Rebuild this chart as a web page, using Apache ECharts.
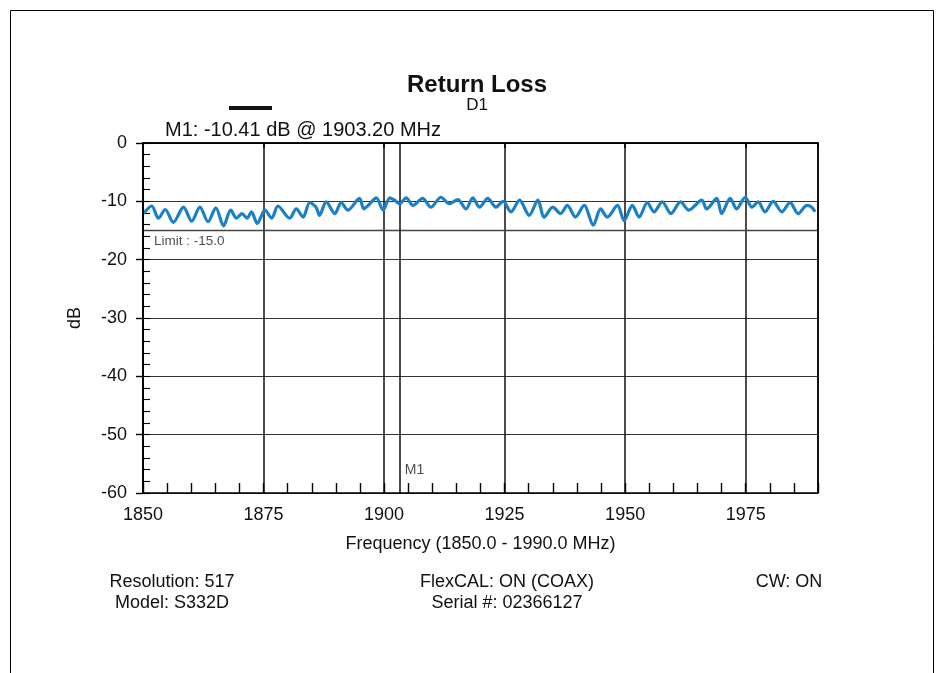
<!DOCTYPE html>
<html>
<head>
<meta charset="utf-8">
<script src="https://cdn.jsdelivr.net/npm/echarts@6/dist/echarts.min.js"></script>
<style>html,body{margin:0;padding:0;background:#fff}#c{width:941px;height:673px}</style>
</head>
<body>
<div id="c"></div>
<script>
var FONT = '"Liberation Sans", Arial, Helvetica, sans-serif';
var freqMHz = [1850.1,1851.8,1853.2,1854.6,1856.3,1858.4,1860.1,1861.8,1863.5,1865.1,1866.7,1868.2,1869.4,1870.5,1871.6,1872.5,1873.7,1875.3,1876.7,1878.0,1880.4,1881.8,1883.2,1884.6,1885.9,1886.6,1888.0,1889.8,1891.1,1892.5,1894.9,1895.8,1896.7,1898.4,1899.8,1901.2,1902.2,1903.2,1904.6,1906.0,1908.0,1909.7,1911.8,1913.5,1915.3,1917.0,1918.4,1919.8,1921.5,1923.2,1924.7,1926.3,1928.1,1930.1,1931.9,1933.2,1935.0,1936.6,1938.0,1939.7,1941.5,1943.4,1944.9,1946.3,1948.4,1949.8,1951.5,1952.9,1954.6,1956.0,1957.7,1959.5,1961.5,1963.2,1965.9,1966.9,1969.0,1970.0,1971.8,1973.1,1974.9,1976.3,1977.6,1979.0,1980.7,1982.5,1984.2,1985.9,1987.7,1988.7,1989.4];
var returnLossDb = [-12.1,-10.8,-12.9,-11.4,-13.6,-11.0,-13.4,-11.0,-13.5,-11.1,-14.2,-11.5,-12.9,-12.1,-12.9,-11.8,-13.8,-11.5,-12.9,-10.8,-12.9,-11.3,-12.7,-10.2,-11.0,-12.4,-10.1,-12.1,-10.2,-11.5,-9.5,-11.3,-10.7,-9.4,-11.5,-9.4,-9.8,-10.4,-9.4,-10.7,-9.5,-11.0,-9.3,-10.4,-9.7,-11.3,-9.4,-11.0,-9.5,-11.0,-10.0,-11.8,-9.8,-12.4,-9.8,-12.7,-11.0,-12.1,-10.7,-12.7,-10.7,-14.1,-11.3,-12.7,-10.7,-13.3,-10.7,-12.7,-10.2,-11.8,-10.1,-12.1,-10.1,-11.5,-9.8,-11.3,-9.5,-12.1,-9.5,-11.3,-9.3,-11.0,-10.1,-11.8,-10.0,-11.8,-10.2,-12.1,-10.7,-11.0,-11.8];
var limitDb = -15.0;
var markerFreq = 1903.2;
var markerText = 'M1: -10.41 dB @ 1903.20 MHz';
var xTickLabels = [1850, 1875, 1900, 1925, 1950, 1975];
var yTickLabels = [0, -10, -20, -30, -40, -50, -60];

var traceData = freqMHz.map(function (f, i) { return [f, returnLossDb[i]]; });

var chart = echarts.init(document.getElementById('c'), null, {renderer: 'canvas'});
chart.setOption({
  animation: false,
  backgroundColor: '#fff',
  textStyle: {fontFamily: FONT},
  title: {
    text: 'Return Loss', subtext: 'D1',
    left: 472, top: 68, textAlign: 'center', itemGap: 0,
    textStyle: {fontFamily: FONT, fontSize: 24, fontWeight: 'bold', color: '#111'},
    subtextStyle: {fontFamily: FONT, fontSize: 17, color: '#111'}
  },
  grid: {left: 143, right: 123, top: 143, bottom: 180, containLabel: false},
  xAxis: [{
    type: 'value', min: 1850, max: 1990, interval: 25, position: 'bottom',
    name: 'Frequency (1850.0 - 1990.0 MHz)', nameLocation: 'middle', nameGap: 42,
    nameTextStyle: {fontFamily: FONT, fontSize: 18, color: '#111'},
    axisLine: {show: true, lineStyle: {color: '#000', width: 1.5}},
    axisTick: {show: true, length: 5, lineStyle: {color: '#000', width: 1.5}},
    axisLabel: {fontFamily: FONT, fontSize: 18, color: '#111', margin: 13,
      formatter: function (v) { return xTickLabels.indexOf(v) >= 0 ? String(v) : ''; }},
    splitLine: {show: true, lineStyle: {color: '#111', width: 1.5}}
  }, {
    type: 'value', min: 1850, max: 1990, interval: 5, position: 'top', offset: -350,
    axisLine: {show: false},
    axisTick: {show: true, inside: false, length: 10, lineStyle: {color: '#000', width: 1.4}},
    axisLabel: {show: false}, splitLine: {show: false}
  }],
  yAxis: [{
    type: 'value', min: -60, max: 0, interval: 10,
    name: 'dB', nameLocation: 'middle', nameGap: 59, nameRotate: 90,
    nameTextStyle: {fontFamily: FONT, fontSize: 18, color: '#111'},
    axisLine: {show: true, lineStyle: {color: '#000', width: 1.5}},
    axisTick: {show: true, length: 7, lineStyle: {color: '#000', width: 1.4}},
    axisLabel: {fontFamily: FONT, fontSize: 18, color: '#111', margin: 16,
      formatter: function (v) { return yTickLabels.indexOf(v) >= 0 ? String(v) : ''; }},
    splitLine: {show: true, lineStyle: {color: '#333', width: 1.2}}
  }, {
    type: 'value', min: -60, max: 0, interval: 2, position: 'left',
    axisLine: {show: false},
    axisTick: {show: true, inside: true, length: 7, lineStyle: {color: '#000', width: 1.1}},
    axisLabel: {show: false}, splitLine: {show: false}
  }],
  series: [{
    type: 'line', xAxisIndex: 0, yAxisIndex: 0,
    data: traceData, showSymbol: false, smooth: 0.3,
    lineStyle: {color: '#1b80c6', width: 3.2},
    z: 5,
    markLine: {
      silent: true, symbol: ['none', 'none'], animation: false,
      label: {show: false},
      data: [
        {yAxis: limitDb, lineStyle: {color: '#444', width: 1.3, type: 'solid'}},
        {xAxis: markerFreq, lineStyle: {color: '#111', width: 1.5, type: 'solid'}}
      ]
    }
  }, {
    type: 'scatter', xAxisIndex: 0, yAxisIndex: 0, symbolSize: 0, silent: true,
    data: [[1852.3, limitDb - 1.9]],
    label: {show: true, position: 'right', distance: 0, formatter: 'Limit : -15.0',
      fontFamily: FONT, fontSize: 13.5, color: '#222'}
  }, {
    type: 'scatter', xAxisIndex: 0, yAxisIndex: 0, symbolSize: 0, silent: true,
    data: [[markerFreq + 1.1, -56.0]],
    label: {show: true, position: 'right', distance: 0, formatter: 'M1',
      fontFamily: FONT, fontSize: 14, color: '#222'}
  }],
  graphic: [
    {type: 'rect', shape: {x: 10.5, y: 10.5, width: 923, height: 700},
      style: {fill: 'none', stroke: '#000', lineWidth: 1}, silent: true},
    {type: 'rect', shape: {x: 229, y: 106, width: 43, height: 4},
      style: {fill: '#111'}, silent: true},
    {type: 'text', x: 165, y: 130,
      style: {text: markerText, font: '20px ' + FONT, fill: '#111', textAlign: 'left', textVerticalAlign: 'middle'}},
    {type: 'text', x: 172, y: 582,
      style: {text: 'Resolution: 517', font: '18px ' + FONT, fill: '#111', textAlign: 'center', textVerticalAlign: 'middle'}},
    {type: 'text', x: 172, y: 603,
      style: {text: 'Model: S332D', font: '18px ' + FONT, fill: '#111', textAlign: 'center', textVerticalAlign: 'middle'}},
    {type: 'text', x: 507, y: 582,
      style: {text: 'FlexCAL: ON (COAX)', font: '18px ' + FONT, fill: '#111', textAlign: 'center', textVerticalAlign: 'middle'}},
    {type: 'text', x: 507, y: 603,
      style: {text: 'Serial #: 02366127', font: '18px ' + FONT, fill: '#111', textAlign: 'center', textVerticalAlign: 'middle'}},
    {type: 'text', x: 789, y: 582,
      style: {text: 'CW: ON', font: '18px ' + FONT, fill: '#111', textAlign: 'center', textVerticalAlign: 'middle'}},
    {type: 'rect', shape: {x: 143, y: 143, width: 675, height: 350},
      style: {fill: 'none', stroke: '#000', lineWidth: 1.5}, silent: true, z: 100}
  ]
});
</script>
</body>
</html>
